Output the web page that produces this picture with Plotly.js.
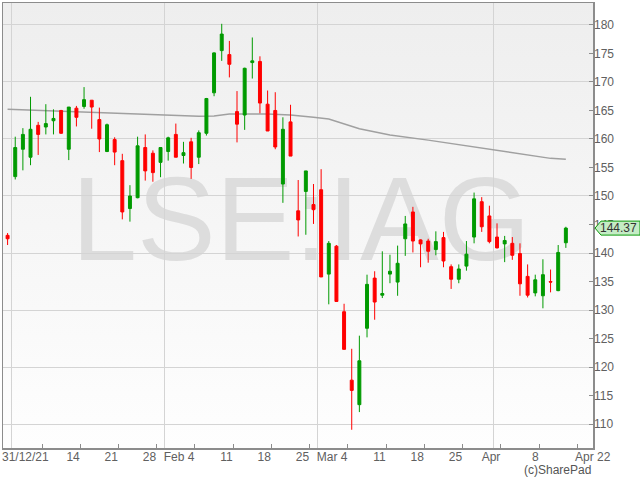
<!DOCTYPE html>
<html><head><meta charset="utf-8">
<script src="https://cdn.plot.ly/plotly-3.0.1.min.js"></script>
<style>html,body{margin:0;padding:0;background:#fff}#chart{width:640px;height:480px}</style>
</head><body><div id="chart"></div>
<script>
// ---- data ----
const dates = ['2021-12-31',
 '2022-01-04','2022-01-05','2022-01-06','2022-01-07','2022-01-10','2022-01-11','2022-01-12','2022-01-13','2022-01-14',
 '2022-01-17','2022-01-18','2022-01-19','2022-01-20','2022-01-21','2022-01-24','2022-01-25','2022-01-26','2022-01-27','2022-01-28','2022-01-31',
 '2022-02-01','2022-02-02','2022-02-03','2022-02-04','2022-02-07','2022-02-08','2022-02-09','2022-02-10','2022-02-11',
 '2022-02-14','2022-02-15','2022-02-16','2022-02-17','2022-02-18','2022-02-21','2022-02-22','2022-02-23','2022-02-24','2022-02-25','2022-02-28',
 '2022-03-01','2022-03-02','2022-03-03','2022-03-04','2022-03-07','2022-03-08','2022-03-09','2022-03-10','2022-03-11',
 '2022-03-14','2022-03-15','2022-03-16','2022-03-17','2022-03-18','2022-03-21','2022-03-22','2022-03-23','2022-03-24','2022-03-25',
 '2022-03-28','2022-03-29','2022-03-30','2022-03-31',
 '2022-04-01','2022-04-04','2022-04-05','2022-04-06','2022-04-07','2022-04-08','2022-04-11','2022-04-12','2022-04-13','2022-04-14'];
const openP = [143.1,
 153.4,158.2,156.8,162.4,162.1,163.2,165.0,158.2,165.4,
 165.7,166.8,163.4,157.8,159.9,156.2,147.8,149.7,158.5,157.5,155.9,
 157.8,160.8,157.1,159.5,156.8,161.0,168.1,175.5,174.8,
 164.8,164.2,173.4,173.6,166.1,165.0,152.1,163.0,147.4,150.8,148.5,
 151.1,136.3,141.2,129.7,117.7,113.4,126.8,135.6,132.6,
 136.3,134.9,142.5,147.2,142.3,142.1,140.6,142.7,137.6,135.4,
 137.7,142.8,149.0,146.5,
 142.8,141.6,141.7,139.9,135.9,133.0,132.5,135.0,133.4,141.8];
const highP = [143.5,
 160.4,161.9,167.4,163.0,166.1,165.2,165.1,165.6,165.8,
 169.1,166.8,165.5,162.7,160.3,157.4,151.9,160.4,160.8,158.0,158.5,
 160.4,162.7,159.5,160.2,161.5,167.2,175.2,180.2,177.2,
 168.4,172.5,177.8,174.5,168.5,168.2,163.8,166.0,152.8,154.4,152.1,
 154.7,142.1,141.4,131.1,123.2,125.5,136.2,136.8,140.3,
 139.7,141.3,146.5,148.1,142.4,142.5,143.8,143.7,138.0,138.0,
 142.1,150.6,149.8,148.3,
 145.2,143.0,142.8,141.7,138.0,136.2,138.9,137.1,141.4,144.6];
const lowP = [141.4,
 152.9,154.5,155.4,157.2,160.8,160.8,160.9,156.3,162.2,
 165.3,161.8,157.7,157.7,155.4,145.9,145.5,149.6,152.7,152.5,153.3,
 156.2,156.8,155.7,153.0,155.6,160.6,167.5,173.7,170.8,
 159.4,161.6,170.6,164.5,161.4,158.2,148.8,157.0,142.9,143.2,145.1,
 135.8,131.0,131.5,123.1,109.0,112.1,125.2,128.3,132.1,
 134.7,132.5,139.5,140.1,137.5,138.3,139.6,137.5,133.7,134.7,
 136.9,141.7,143.7,141.7,
 140.8,138.4,138.8,132.5,132.2,132.4,130.3,133.1,133.3,140.9];
const closeP = [142.5,
 158.5,160.8,161.7,160.8,162.7,163.6,161.0,165.6,163.8,
 166.9,165.6,160.0,162.5,157.7,147.2,150.0,158.8,154.4,154.1,158.5,
 160.2,156.8,157.6,155.0,161.1,167.1,175.1,178.4,173.1,
 162.6,172.4,173.7,166.3,161.4,158.6,161.7,157.0,145.8,154.4,147.6,
 135.8,141.7,131.5,123.1,115.9,121.1,134.5,131.4,132.9,
 136.8,138.2,145.1,142.1,141.6,140.3,142.0,138.6,135.4,137.2,
 139.8,149.5,144.6,142.0,
 140.9,142.2,139.6,134.6,132.6,135.3,136.2,134.9,140.1,144.37];

const maDates = ['2021-12-31','2022-01-07','2022-01-13','2022-01-19','2022-01-26','2022-02-01','2022-02-07','2022-02-09','2022-02-11',
 '2022-02-18','2022-02-23','2022-02-28','2022-03-02','2022-03-08','2022-03-14','2022-03-21','2022-03-25','2022-03-31','2022-04-07','2022-04-12','2022-04-14'];
const maVals = [165.2,165.0,164.8,164.6,164.4,164.2,164.0,164.05,164.4,
 164.4,164.2,163.8,163.5,161.8,160.7,159.8,159.0,158.3,157.3,156.6,156.45];

// axis calendar (future sessions used only for the axis)
const futureSessions = ['2022-04-15','2022-04-18','2022-04-19'];
const weekTickDates = ['2022-01-07','2022-01-14','2022-01-21','2022-01-28','2022-02-04','2022-02-11','2022-02-18','2022-02-25',
 '2022-03-04','2022-03-11','2022-03-18','2022-03-25','2022-04-01','2022-04-08','2022-04-15'];
const weekTickText = ['','14','21','28','Feb 4','11','18','25','Mar 4','11','18','25','Apr','8',''];
const monthStarts = ['2022-01-04','2022-02-01','2022-03-01','2022-04-01'];
const edgeLabels = ['31/12/21','Apr 22'];
const symbol = 'LSE:IAG';
const credit = '(c)SharePad';

// ---- build ----
const sessions = dates.concat(futureSessions);
const pos = d => sessions.indexOf(d);
const xs = dates.map((d, i) => i);
const xRange = [-0.6, 76.55];
const yRange = [105.8, 183.85];
const lastClose = closeP[closeP.length - 1];
const FONT = 'Liberation Sans, Arial, sans-serif';
const tickFont = {family: FONT, size: 12, color: '#606060'};

const bgSvg = '<svg xmlns="http://www.w3.org/2000/svg" width="10" height="100" preserveAspectRatio="none">' +
 '<defs><linearGradient id="g" x1="0" y1="0" x2="0" y2="1"><stop offset="0" stop-color="#eeeeee"/>' +
 '<stop offset="1" stop-color="#fefefe"/></linearGradient></defs><rect width="10" height="100" fill="url(#g)"/></svg>';

const traces = [
  {type: 'scatter', mode: 'lines', x: maDates.map(pos), y: maVals, xaxis: 'x', yaxis: 'y',
   line: {color: '#a0a0a0', width: 1.5}, hoverinfo: 'skip'},
  {type: 'candlestick', x: xs, open: openP, high: highP, low: lowP, close: closeP, xaxis: 'x2', yaxis: 'y2',
   increasing: {line: {color: '#009a00', width: 1}, fillcolor: '#009a00'},
   decreasing: {line: {color: '#ff0000', width: 1}, fillcolor: '#ff0000'},
   whiskerwidth: 0, hoverinfo: 'skip'}
];

const yPaper = (lastClose - yRange[0]) / (yRange[1] - yRange[0]);

const layout = {
  width: 640, height: 480,
  margin: {l: 3, r: 47, t: 3, b: 32, pad: 0},
  paper_bgcolor: '#ffffff', plot_bgcolor: '#f6f6f6',
  showlegend: false, hovermode: false, boxgap: 0.45,
  font: {family: FONT, size: 12, color: '#606060'},
  xaxis: {range: xRange, autorange: false, tickvals: monthStarts.map(d => pos(d) - 0.5),
    showticklabels: false, ticks: '', showgrid: true, gridcolor: '#d4d4d4', gridwidth: 1, zeroline: false,
    showline: true, linecolor: '#8c8c8c', linewidth: 1.5, mirror: true, rangeslider: {visible: false}, fixedrange: true},
  yaxis: {range: yRange, autorange: false, side: 'right', tick0: 0, dtick: 10, showticklabels: false, ticks: '',
    showgrid: true, gridcolor: '#d4d4d4', gridwidth: 1, zeroline: false,
    showline: true, linecolor: '#8c8c8c', linewidth: 1.5, mirror: true, fixedrange: true},
  xaxis2: {overlaying: 'x', anchor: 'y2', range: xRange, autorange: false,
    tickvals: weekTickDates.map(d => pos(d) + 0.5), ticktext: weekTickText,
    ticks: 'inside', ticklen: 4, tickcolor: '#8c8c8c', ticklabelposition: 'outside left',
    showgrid: false, zeroline: false, showline: false, tickfont: tickFont, rangeslider: {visible: false}, fixedrange: true},
  yaxis2: {overlaying: 'y', anchor: 'x2', side: 'right', range: yRange, autorange: false, tick0: 0, dtick: 5,
    ticks: 'inside', ticklen: 4, tickcolor: '#8c8c8c', showgrid: false, zeroline: false, showline: false,
    tickfont: tickFont, fixedrange: true},
  images: [{source: 'data:image/svg+xml;charset=utf-8,' + encodeURIComponent(bgSvg),
    xref: 'paper', yref: 'paper', x: 0, y: 1, sizex: 1, sizey: 1, sizing: 'stretch',
    xanchor: 'left', yanchor: 'top', layer: 'below'}],
  shapes: [
    {type: 'rect', xref: 'paper', yref: 'paper', x0: 0.105, x1: 0.905, y0: 0.32, y1: 0.76,
     line: {width: 0}, fillcolor: 'rgba(0,0,0,0)', layer: 'below',
     label: {text: symbol, textposition: 'middle center', font: {family: FONT, size: 118, color: '#dddddd'}}},
    {type: 'path', xref: 'paper', yref: 'paper', xsizemode: 'pixel', ysizemode: 'pixel', xanchor: 1, yanchor: yPaper,
     path: 'M2,0L8,7L47,7L47,-7L8,-7Z', fillcolor: '#c5ecc5', line: {color: '#0b9b0b', width: 1}, layer: 'above'}
  ],
  annotations: [
    {xref: 'paper', x: 1, xanchor: 'left', xshift: 5, yref: 'y2', y: lastClose, yanchor: 'middle',
     text: lastClose.toFixed(2), showarrow: false, font: {family: FONT, size: 12, color: '#333333'}},
    {xref: 'paper', x: 0, xanchor: 'left', xshift: -3, yref: 'paper', y: -0.021, yanchor: 'middle',
     text: edgeLabels[0], showarrow: false, font: tickFont},
    {xref: 'paper', x: 1, xanchor: 'center', yref: 'paper', y: -0.021, yanchor: 'middle',
     text: edgeLabels[1], showarrow: false, font: tickFont},
    {xref: 'paper', x: 1, xanchor: 'right', yref: 'paper', y: -0.049, yanchor: 'middle',
     text: credit, showarrow: false, font: {family: FONT, size: 12, color: '#555555'}}
  ]
};

Plotly.newPlot('chart', traces, layout, {staticPlot: true, displayModeBar: false});
</script>
</body></html>
